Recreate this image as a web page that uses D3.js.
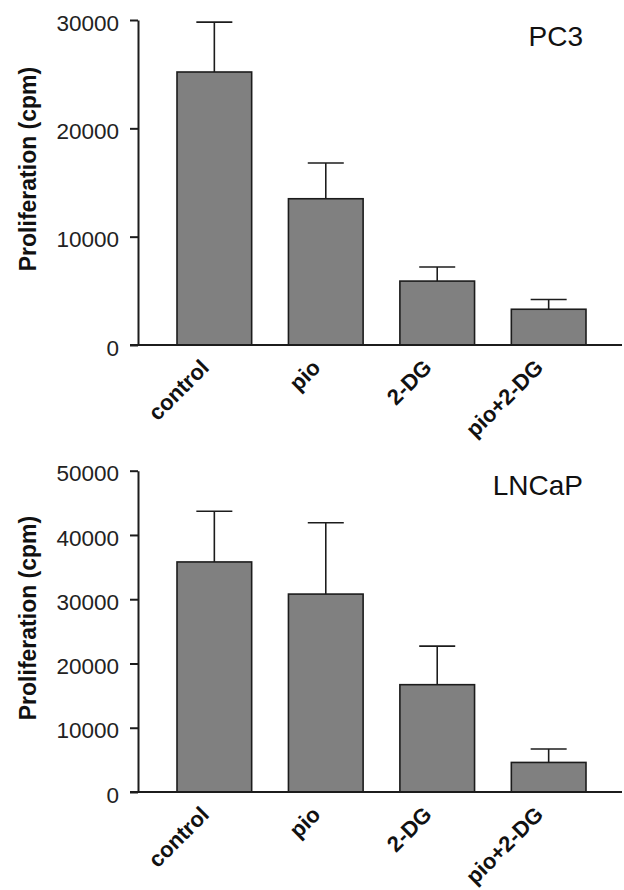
<!DOCTYPE html>
<html>
<head>
<meta charset="utf-8">
<script src="https://cdn.jsdelivr.net/npm/d3@7"></script>
<style>
  html, body { margin: 0; padding: 0; background: #fff; }
  svg { display: block; }
  text { font-family: Arial, "Liberation Sans", Helvetica, sans-serif; }
</style>
</head>
<body>
<svg id="chart" width="624" height="890"></svg>
<script>
// ---- Data ----
const categories = ["control", "pio", "2-DG", "pio+2-DG"];
const pc3Values = [25200, 13500, 5900, 3300];
const pc3Errors = [4600, 3300, 1300, 900];
const lncapValues = [35800, 30800, 16700, 4600];
const lncapErrors = [7900, 11100, 6000, 2100];
const pc3Ticks = [0, 10000, 20000, 30000];
const lncapTicks = [0, 10000, 20000, 30000, 40000, 50000];
const yLabel = "Proliferation (cpm)";

const svg = d3.select("#chart");

const x = d3.scaleBand()
  .domain(categories)
  .range([138, 625])
  .paddingInner(0.33)
  .paddingOuter(0.35);

const panels = [
  { title: "PC3", values: pc3Values, errors: pc3Errors, ticks: pc3Ticks,
    domain: [0, 30000], range: [345, 20], titleY: 46, labelY: 169 },
  { title: "LNCaP", values: lncapValues, errors: lncapErrors, ticks: lncapTicks,
    domain: [0, 50000], range: [792, 470.7], titleY: 495, labelY: 618 }
];

const ink = "#1c1c1c";

panels.forEach(p => {
  const y = d3.scaleLinear().domain(p.domain).range(p.range);
  const g = svg.append("g");

  // bars
  g.selectAll("rect.bar")
    .data(categories)
    .join("rect")
    .attr("class", "bar")
    .attr("x", d => x(d))
    .attr("width", x.bandwidth())
    .attr("y", (d, i) => y(p.values[i]))
    .attr("height", (d, i) => y(0) - y(p.values[i]))
    .attr("fill", "#808080")
    .attr("stroke", ink)
    .attr("stroke-width", 1.6);

  // error bars (upper only)
  const capW = 36;
  g.selectAll("line.err")
    .data(categories)
    .join("line")
    .attr("class", "err")
    .attr("x1", d => x(d) + x.bandwidth() / 2)
    .attr("x2", d => x(d) + x.bandwidth() / 2)
    .attr("y1", (d, i) => y(p.values[i]))
    .attr("y2", (d, i) => y(p.values[i] + p.errors[i]))
    .attr("stroke", ink)
    .attr("stroke-width", 1.6);
  g.selectAll("line.cap")
    .data(categories)
    .join("line")
    .attr("class", "cap")
    .attr("x1", d => x(d) + x.bandwidth() / 2 - capW / 2)
    .attr("x2", d => x(d) + x.bandwidth() / 2 + capW / 2)
    .attr("y1", (d, i) => y(p.values[i] + p.errors[i]))
    .attr("y2", (d, i) => y(p.values[i] + p.errors[i]))
    .attr("stroke", ink)
    .attr("stroke-width", 1.6);

  // y axis
  const yAxis = d3.axisLeft(y)
    .tickValues(p.ticks)
    .tickFormat(d3.format("d"))
    .tickSize(8)
    .tickSizeOuter(0)
    .tickPadding(11);
  const ag = g.append("g")
    .attr("transform", `translate(${x.range()[0]},0)`)
    .call(yAxis);
  ag.select(".domain").attr("stroke", ink).attr("stroke-width", 2);
  ag.selectAll(".tick line").attr("stroke", ink).attr("stroke-width", 2);
  ag.selectAll(".tick text")
    .attr("font-size", 22.5)
    .attr("fill", "#222")
    .attr("dy", "0.45em")
    .style("font-family", "Arial, 'Liberation Sans', sans-serif");

  // x axis baseline
  g.append("line")
    .attr("x1", x.range()[0] - 8)
    .attr("x2", 622)
    .attr("y1", y(0))
    .attr("y2", y(0))
    .attr("stroke", ink)
    .attr("stroke-width", 2);

  // category labels
  g.selectAll("text.cat")
    .data(categories)
    .join("text")
    .attr("class", "cat")
    .attr("text-anchor", "end")
    .attr("font-size", 22)
    .attr("font-weight", "bold")
    .attr("fill", "#111")
    .attr("transform", d => `translate(${x(d) + x.bandwidth() / 2 - 4},${y(0) + 24}) rotate(-45)`)
    .text(d => d);

  // y label
  g.append("text")
    .attr("text-anchor", "middle")
    .attr("font-size", 23)
    .attr("font-weight", "bold")
    .attr("fill", "#111")
    .attr("transform", `translate(36,${p.labelY}) rotate(-90)`)
    .text(yLabel);

  // title
  g.append("text")
    .attr("text-anchor", "end")
    .attr("x", 583)
    .attr("y", p.titleY)
    .attr("font-size", 28)
    .attr("fill", "#111")
    .text(p.title);
});
</script>
</body>
</html>
